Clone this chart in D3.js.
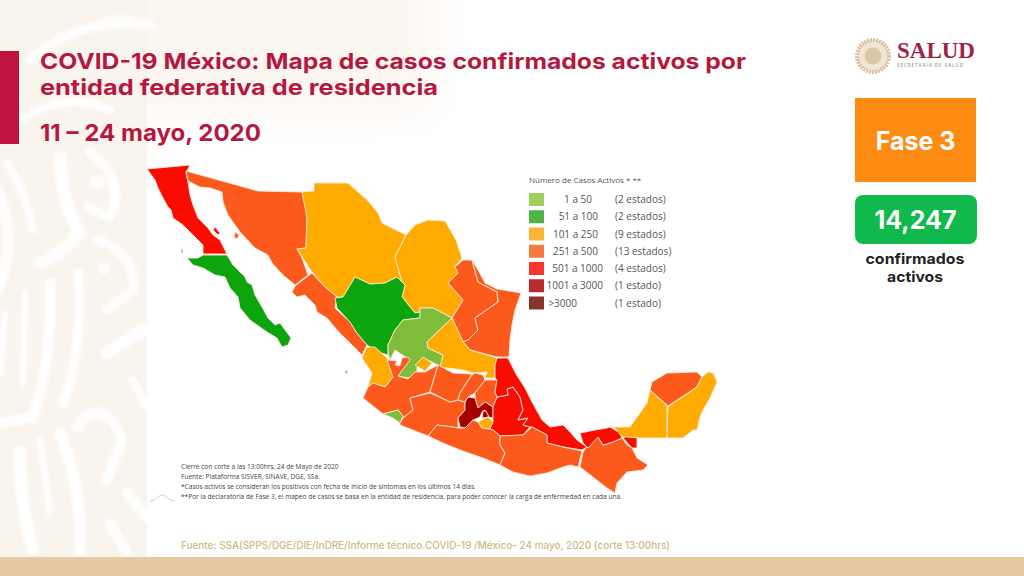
<!DOCTYPE html>
<html><head><meta charset="utf-8">
<script src="https://cdn.jsdelivr.net/npm/d3@7"></script>
<style>html,body{margin:0;padding:0;background:#fff;overflow:hidden}svg{display:block}</style>
</head><body><svg id="c" width="1024" height="576"></svg>
<script>
// legend classes
const classLabels=["1 a 50","51 a 100","101 a 250","251 a 500","501 a 1000","1001 a 3000",">3000"];
const classCounts=["(2 estados)","(2 estados)","(9 estados)","(13 estados)","(4 estados)","(1 estado)","(1 estado)"];
const legendColors=["#9ed05a","#4fb347","#fbb637","#f57a3c","#f6352f","#b9292e","#85352a"];
const mapColors=["#7dbd3a","#0ba50b","#ffab00","#fc5a1c","#fa0e00","#a80000","#a50505"];
// state class (index in classLabels)
const stateNames=["Baja California","Baja California Sur","Sonora","Chihuahua","Coahuila","Nuevo León","Tamaulipas","Sinaloa","Durango","Zacatecas","Nayarit","Aguascalientes","San Luis Potosí","Jalisco","Colima","Michoacán","Guanajuato","Querétaro","Hidalgo","México","Ciudad de México","Tlaxcala","Morelos","Puebla","Veracruz","Guerrero","Oaxaca","Chiapas","Tabasco","Campeche","Yucatán","Quintana Roo"];
const stateClass=[4,1,3,2,2,3,3,3,1,0,2,2,2,3,0,3,3,3,3,5,6,2,2,4,4,3,3,3,4,2,3,2];
// outlines, in map-grid units (east, south)
const outlines=[
[[[7,9],[50,5],[46,13],[48,22],[50,35],[53,45],[58,58],[68,68],[73,75],[80,80],[87,94],[63,94],[63,85],[53,75],[43,65],[33,58],[31,50],[28,47],[23,38],[18,28],[15,20]],[[75,67],[80,73],[78,75],[73,70]]],
[[[47,98],[58,98],[63,95],[87,95],[93,105],[105,117],[107,122],[112,125],[115,135],[122,147],[128,158],[135,165],[140,163],[151,178],[148,185],[142,187],[137,178],[127,172],[110,160],[100,148],[98,137],[90,128],[85,117],[75,115],[63,108],[53,105]]],
[[[46,11],[118,31],[163,32],[167,58],[166,88],[157,89],[162,98],[168,115],[155,125],[143,115],[132,103],[128,95],[115,88],[100,72],[88,55],[83,42],[82,32],[70,28],[60,27],[48,21]],[[95,72],[99,75],[97,79],[94,77]]],
[[[162,32],[174,31],[174,23],[208,23],[227,40],[238,53],[242,63],[266,75],[255,97],[262,122],[257,117],[245,123],[230,124],[215,117],[203,137],[197,137],[185,127],[172,112],[166,103],[157,89],[166,88],[167,58]]],
[[[266,75],[275,65],[288,60],[305,61],[316,80],[322,98],[315,107],[318,113],[308,123],[323,140],[312,158],[293,148],[280,148],[280,152],[275,153],[262,137],[265,125],[262,122],[255,97]]],
[[[323,100],[332,100],[338,122],[357,132],[358,142],[335,158],[338,170],[328,180],[323,182],[312,158],[323,140],[308,123],[318,113],[315,107]]],
[[[332,100],[338,110],[345,123],[357,129],[381,133],[375,150],[372,165],[370,180],[369,197],[357,197],[330,190],[323,182],[328,180],[338,170],[335,158],[358,142],[357,132],[338,122]]],
[[[155,126],[172,113],[185,127],[197,137],[195,148],[210,162],[217,173],[227,185],[222,195],[210,183],[197,170],[187,158],[177,152],[175,145],[165,135],[157,137],[152,132]]],
[[[215,117],[230,124],[245,123],[257,117],[265,125],[262,137],[275,153],[280,152],[280,158],[263,160],[255,170],[248,185],[248,195],[238,192],[227,185],[217,173],[210,162],[197,148],[195,138],[203,137]]],
[[[263,160],[280,158],[280,148],[293,148],[312,158],[287,182],[288,188],[303,195],[302,207],[292,202],[283,198],[277,207],[277,215],[268,218],[258,216],[264,205],[270,200],[255,190],[250,200],[248,193],[248,185],[255,170]]],
[[[227,187],[235,187],[247,198],[253,217],[245,227],[233,223],[228,227],[232,213],[222,198]]],
[[[275,205],[283,197],[292,203],[285,211]]],
[[[312,158],[323,182],[330,190],[357,198],[355,205],[355,218],[345,218],[347,212],[333,213],[323,210],[300,207],[303,195],[288,188],[287,182]]],
[[[228,227],[233,223],[245,227],[253,217],[247,200],[257,201],[255,205],[260,206],[262,198],[268,197],[270,200],[258,216],[268,219],[275,212],[285,212],[298,205],[290,232],[270,238],[273,250],[263,258],[258,250],[243,254],[223,238]]],
[[[243,254],[258,250],[263,256],[260,263],[253,258]]],
[[[260,263],[263,258],[273,250],[270,238],[290,233],[310,242],[318,240],[325,242],[325,250],[318,258],[318,268],[313,267],[297,265],[288,276],[260,265]]],
[[[290,232],[298,205],[313,213],[332,214],[327,222],[320,233],[318,240],[310,242]]],
[[[320,233],[327,222],[332,215],[335,213],[343,215],[345,220],[335,233],[328,237],[325,242],[318,240]]],
[[[335,233],[345,220],[357,220],[355,232],[357,237],[353,247],[345,242],[338,248],[335,238]]],
[[[328,237],[335,238],[338,248],[345,242],[353,247],[353,258],[348,257],[345,250],[342,252],[340,257],[333,260],[325,268],[320,267],[318,258],[325,250],[325,242]]],
[[[343,251],[346,251],[349,257],[342,258]]],
[[[355,248],[363,245],[373,252],[365,257]]],
[[[338,262],[348,257],[353,262],[350,269],[342,268]]],
[[[357,237],[368,235],[367,229],[373,227],[380,237],[383,250],[378,260],[388,258],[383,265],[390,267],[383,275],[360,276],[353,270],[350,269],[353,262],[353,258],[353,247]]],
[[[357,198],[368,198],[376,214],[385,228],[392,242],[402,260],[410,267],[423,265],[430,272],[437,280],[447,287],[442,290],[423,287],[407,283],[407,275],[392,267],[390,267],[383,265],[388,258],[378,260],[383,250],[380,237],[373,227],[367,229],[368,235],[357,237],[355,232],[357,220],[355,218],[355,205]]],
[[[288,276],[297,265],[313,267],[318,268],[325,268],[333,260],[338,262],[342,268],[350,269],[353,270],[360,276],[360,285],[365,293],[360,305],[343,298],[320,290],[303,283]]],
[[[360,276],[383,275],[392,267],[407,275],[407,283],[423,287],[442,291],[438,307],[430,305],[423,307],[407,313],[390,316],[373,312],[360,305],[365,293],[360,285]]],
[[[440,307],[443,292],[453,278],[458,277],[463,285],[473,282],[482,278],[487,285],[492,288],[497,298],[508,305],[503,310],[487,312],[477,323],[475,333],[467,328],[453,317]]],
[[[440,273],[455,270],[467,268],[470,267],[480,273],[482,278],[473,282],[463,285],[458,277],[448,288],[443,283]],[[487,276],[497,276],[497,288],[492,288],[483,278]]],
[[[510,230],[527,246],[527,278],[500,278],[487,277],[482,277],[475,268],[470,267],[490,267],[500,253],[507,243]]],
[[[512,222],[527,213],[557,212],[562,217],[557,227],[528,246],[510,230]]],
[[[562,217],[568,212],[573,213],[577,222],[570,238],[563,250],[560,257],[557,270],[553,270],[543,278],[527,278],[528,247],[557,227]]]
];
const islets=[[[42,88],[43,93],[41,92]],[[205,210],[208,212],[206,214]]];
const titleLines=["COVID-19 México: Mapa de casos confirmados activos por","entidad federativa de residencia"];
const titleWidths=[706,398];
const dateLine="11 – 24 mayo, 2020";
const legendTitle="Número de Casos Activos * **";
const notes=["Cierre con corte a las 13:00hrs, 24 de Mayo de 2020","Fuente: Plataforma SISVER, SINAVE, DGE, SSa.","*Casos activos se consideran los positivos con fecha de inicio de síntomas en los últimos 14 días.","**Por la declaratoria de Fase 3, el mapeo de casos se basa en la entidad de residencia, para poder conocer la carga de enfermedad en cada una."];
const sourceLine="Fuente: SSA(SPPS/DGE/DIE/InDRE/Informe técnico.COVID-19 /México- 24 mayo, 2020 (corte 13:00hrs)";
const totalActive="14,247";

const svg=d3.select("#c");
const gridX=d3.scaleLinear().domain([0,600]).range([140,740]);
const gridY=d3.scaleLinear().domain([0,340]).range([160,500]);
const colorOf=d3.scaleOrdinal().domain(classLabels).range(mapColors);
const line=d3.line().x(d=>gridX(d[0])).y(d=>gridY(d[1])).curve(d3.curveLinearClosed);

// backdrop ornament: pale cream panel with white strokes
const defs=svg.append("defs");
const blur=defs.append("filter").attr("id","b").attr("x","-10%").attr("y","-10%").attr("width","120%").attr("height","120%");
blur.append("feGaussianBlur").attr("stdDeviation",1.5);
const wide=defs.append("filter").attr("id","w").attr("x","-20%").attr("y","-40%").attr("width","140%").attr("height","180%");
wide.append("feGaussianBlur").attr("stdDeviation",22);
const soft=defs.append("filter").attr("id","s").attr("x","-2%").attr("y","-2%").attr("width","104%").attr("height","104%");
soft.append("feGaussianBlur").attr("stdDeviation",0.4);
svg.append("rect").attr("x",100).attr("y",-40).attr("width",330).attr("height",150).attr("fill","#fcf6f0").attr("filter","url(#w)");
svg.append("rect").attr("width",147).attr("height",557).attr("fill","#faf4ee");
const bg=svg.append("g").attr("filter","url(#b)").attr("fill","none").attr("stroke","#fff").attr("stroke-linecap","round");
[["M7 163Q25 190 33 230",7],["M-2 190Q18 240 -2 290",10],["M60 157Q62 205 80 233Q60 255 40 263",12],["M90 153Q127 180 110 217L87 207",9],["M97 240Q137 253 133 290L107 310",9],["M107 353L147 327",12],["M50 283Q53 357 33 417L0 423",10],["M25 293L23 383",6],["M78 273Q83 353 63 403",9],["M5 313L0 373",6],["M77 427Q103 393 122 440L107 480",10],["M20 452Q20 507 33 550",12],["M40 440L50 513",6],["M60 433Q83 490 80 553",11],["M133 380L147 407",8],["M127 493L147 517",10],["M110 523L127 553",10],["M96 182L99 182",13],["M103 268L105 268",11],["M30 60Q80 15 150 25",9],["M108 22L130 22",12],["M20 120Q70 90 110 110",8]].forEach(d=>bg.append("path").attr("d",d[0]).attr("stroke-width",d[1]));
svg.append("rect").attr("x",0).attr("y",557).attr("width",1024).attr("height",19).attr("fill","#e4c9a1");

// header
svg.append("rect").attr("x",0).attr("y",51).attr("width",19).attr("height",93).attr("fill","#bf1440");
const ttl=svg.append("g").attr("font-family","Inter").attr("font-weight",700).attr("fill","#b5183f").attr("font-size",22);
titleLines.forEach((t,i)=>ttl.append("text").attr("x",40).attr("y",69+i*26).attr("textLength",titleWidths[i]).attr("lengthAdjust","spacingAndGlyphs").text(t));
ttl.append("text").attr("x",40).attr("y",141).attr("font-size",23).attr("textLength",221).attr("lengthAdjust","spacingAndGlyphs").text(dateLine);

// map
const map=svg.append("g").attr("stroke","#fbe9d8").attr("stroke-width",0.9).attr("stroke-linejoin","round").attr("filter","url(#s)");
outlines.forEach((parts,i)=>{
  map.append("path").datum(parts).attr("fill",colorOf(classLabels[stateClass[i]])).attr("d",p=>p.map(line).join(""));
});
map.selectAll(null).data(islets).enter().append("path").attr("fill","#f08a5a").attr("stroke","none").attr("d",line);

// legend
const lg=svg.append("g").attr("font-family","Open Sans").attr("fill","#555");
lg.append("text").attr("x",529).attr("y",183).attr("font-size",8).text(legendTitle);
const rowY=d3.scalePoint().domain(classLabels).range([199.5,303]);
const labelRight=[592,598,598,598,603,603,577];
classLabels.forEach((c,i)=>{
  lg.append("rect").attr("x",529).attr("y",rowY(c)-6.5).attr("width",15).attr("height",13).attr("fill",legendColors[i]);
  lg.append("text").attr("x",labelRight[i]).attr("y",rowY(c)+3.5).attr("text-anchor","end").attr("font-size",10).text(c);
  lg.append("text").attr("x",615).attr("y",rowY(c)+3.5).attr("font-size",10).text(classCounts[i]);
});

// notes
const nt=svg.append("g").attr("font-family","Open Sans").attr("font-size",6.57).attr("fill","#444");
notes.forEach((t,i)=>nt.append("text").attr("x",181).attr("y",468.5+i*10).text(t));
svg.append("path").attr("d","M150 501C156 501 158 495 162 495C166 495 169 501 175 501").attr("fill","none").attr("stroke","#bbb").attr("stroke-width",0.7);
svg.append("text").attr("x",181).attr("y",549).attr("font-family","Inter").attr("font-weight",500).attr("font-size",10.4).attr("fill","#cfb985").attr("textLength",489).attr("lengthAdjust","spacingAndGlyphs").text(sourceLine);

// logo
const logo=svg.append("g");
logo.append("circle").attr("cx",873).attr("cy",56).attr("r",16).attr("fill","#f0e4d2").attr("stroke","#d8c3a2").attr("stroke-width",4).attr("stroke-dasharray","2 1");
logo.append("circle").attr("cx",873).attr("cy",56).attr("r",8.5).attr("fill","#dcc7a8");
logo.append("text").attr("x",897).attr("y",58).attr("font-family","Liberation Serif").attr("font-weight",700).attr("font-size",22.5).attr("fill","#9c2447").attr("textLength",78).attr("lengthAdjust","spacingAndGlyphs").text("SALUD");
logo.append("text").attr("x",897).attr("y",67).attr("font-family","Open Sans").attr("font-weight",600).attr("font-size",4.6).attr("fill","#a89a88").attr("textLength",66).text("SECRETARÍA DE SALUD");

// phase boxes
svg.append("rect").attr("x",855).attr("y",98).attr("width",121).attr("height",84).attr("fill","#ff8c12");
svg.append("rect").attr("x",855).attr("y",195).attr("width",122).attr("height",49).attr("rx",8).attr("fill","#10b94b");
const side=svg.append("g").attr("font-family","Inter").attr("font-weight",700).attr("text-anchor","middle");
side.append("text").attr("x",915.5).attr("y",150).attr("font-size",25).attr("fill","#fff").text("Fase 3");
side.append("text").attr("x",915.5).attr("y",229).attr("font-size",25).attr("fill","#fff").text(totalActive);
side.append("text").attr("x",915).attr("y",264).attr("font-size",14.5).attr("fill","#222").attr("textLength",99).attr("lengthAdjust","spacingAndGlyphs").text("confirmados");
side.append("text").attr("x",915).attr("y",282).attr("font-size",14.5).attr("fill","#222").attr("textLength",56).attr("lengthAdjust","spacingAndGlyphs").text("activos");
</script></body></html>
